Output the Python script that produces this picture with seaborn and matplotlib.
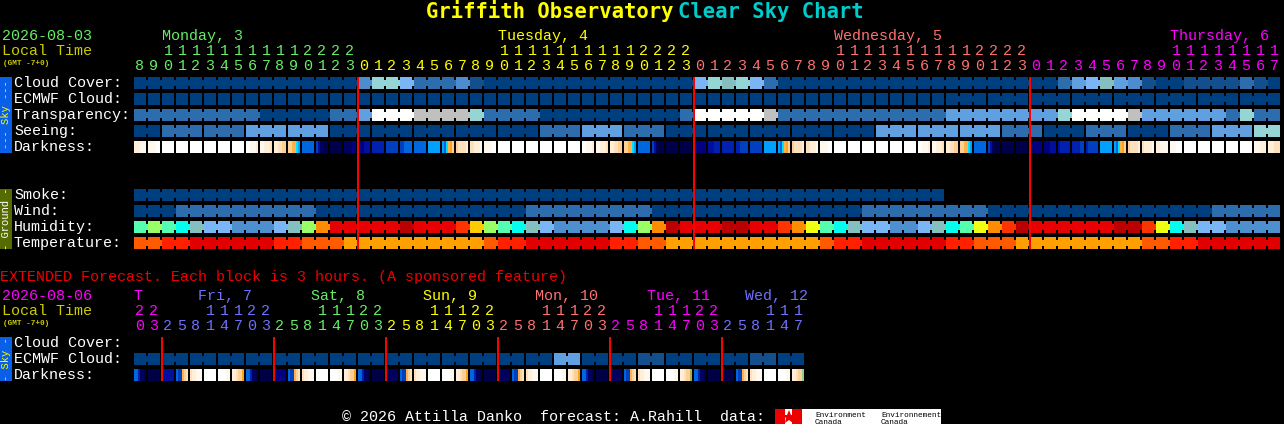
"""Griffith Observatory Clear Sky Chart, drawn as rows of seaborn heatmaps."""
import numpy as np
import matplotlib
matplotlib.use("Agg")
import matplotlib.pyplot as plt
from matplotlib.colors import ListedColormap
from matplotlib.patches import Rectangle
import seaborn as sns

# ── Block codes, one letter per block ────────────────────────────────────────
# split by day: 16 blocks on Monday, 24, 24, then 18 on Thursday
# a space marks blocks forecast together (they get joined by a small bridge)
CLOUD = ("dddddddddddddddd" "nttpmmmnsddddddddddddddd"
         "ptutpmdddddddddddddddddd" "ddmlpulnsddssssmsd")
ECMWF = "d " * 58 + "ddd " * 8
TRANSPARENCY = ("mmmmmmmmmdddddmm" "lwwwggggtmmmmddddddddddm"
                "wwwwwgmmmmmmmmmmmmllllll" "lltwwwwgllllllmtmm")
SEEING = ("dd mmm mmm lll lll ddd ddd ddd ddd ddd mmm lll mmm ddd ddd ddd ddd ddd "
          "lll lll lll mmm ddd mmm ddd mmm lll tt")
SMOKE = ("dddddddddddddddd" "dddddddddddddddddddddddd"
         "dddddddddddddddddd")
WIND = ("dddmmmmmmmmmmddd" "ddddddddddddmmmmmmmmmddd"
        "ddddddddddddmmmmmmmmmddd" "dddddddddddddmmmmm")
HUMIDITY = ("abacuppnnnpuborr" "rrrkrrrfybacupnnnnpcbokr"
            "rrkkrrfoeacuppnnpucaeofk" "rrrrrrkkfecuppnnnn")
TEMPERATURE = ("oottrrrrrrttoooy" "yyyyyyyyyottrrrrrrttooyy"
               "yyyyyyyyyottrrrrrrttoooy" "yyyyyyyyoottrrrrrr")

EXT_ECMWF = ("dd dd dd dd dd dd dd dd dd dd dd dd dd dd dd ll "
             "dd dd ss dd dd dd ss dd")

# Darkness is not flat inside a block, so each block gets six colour strips
DARKNESS = [
    "bbbaaa", "aaaaWW", "WWWWWW", "WWWWWW", "WWWWWW", "WWWWWW", "WWWWWW", "WWWWWW",
    "WWaaab", "aabbbc", "bbccdd", "ddeegh", "iiiiii", "jlnnoo", "oooooo", "nnnnmm",
    "mmmlll", "kkkkkk", "jjjjjj", "jjiiii", "iiiiii", "hhhhhh", "higefd", "dccccb",
    "ccbbba", "aaaaWW", "WWWWWW", "WWWWWW", "WWWWWW", "WWWWWW", "WWWWWW", "WWWWWW",
    "WWaaab", "aabbbc", "bbccdd", "ddeegh", "iiiiii", "jlnooo", "oooooo", "oooooo",
    "mmmmmm", "lllkkk", "kkkkkk", "kkjjjj", "jjjjjj", "hhhhhh", "higefd", "dccccb",
    "ccbbba", "aaaaWW", "WWWWWW", "WWWWWW", "WWWWWW", "WWWWWW", "WWWWWW", "WWWWWW",
    "WWaaab", "aabbbc", "bbccdd", "ddeegh", "iiiiii", "jlnooo", "oooooo", "oooooo",
    "nnmmmm", "mmmlll", "lkkkkk", "kkkkjj", "kjjjjj", "hhhhhh", "higefd", "dccccb",
    "cbbbba", "bbaaaa", "aaaWWW", "WWWWWW", "WWWWWW", "WWWWWW", "WWWWWW", "WWWWWW",
    "aaabbb", "bbbccc",
]
EXT_DARKNESS = [
    "iiknno", "oooooo", "llllll", "ijjedc", "cbbaaa", "WWWWWW", "WWWWaa", "bbcddf",
    "iiknno", "oooooo", "mmmmmm", "ijjedc", "cbbaaa", "WWWWWW", "WWWWaa", "bbcddf",
    "iiknno", "oooooo", "nnnnnn", "ijjedc", "cbbaaa", "WWWWWW", "WWWWaa", "bbcddf",
    "iiknno", "oooooo", "nnnnnn", "ijjedc", "cbbaaa", "WWWWWW", "WWWWaa", "bbcddf",
    "iiknno", "oooooo", "nnnnnn", "ijjedc", "cbbaaa", "WWWWWW", "WWWWaa", "bbcddr",
    "iiknno", "oooooo", "oooooo", "ijjedc", "cbbaaa", "WWWWWW", "WWWWaa", "bbcddq",
]

# ── Tick labels ──────────────────────────────────────────────────────────────
MAIN_ONES = "8901234567890123" "012345678901234567890123" "012345678901234567890123" "012345678901234567"
MAIN_TENS = "  11111111112222" "          11111111112222" "          11111111112222" "          11111111"
EXT_ONES = "03" "25814703" "25814703" "25814703" "25814703" "25814703" "258147"
EXT_TENS = "22" "   11122" "   11122" "   11122" "   11122" "   11122" "   111"

MAIN_MIDNIGHTS = [16, 40, 64]
EXT_MIDNIGHTS = [2, 10, 18, 26, 34, 42]

GREEN, YELLOW, SALMON, MAGENTA, BLUE = "#66ee66", "#ffff00", "#ff7070", "#ff00ff", "#7070ff"
OLIVE = "#cccc00"
MAIN_DAY_SPANS = [(16, GREEN), (24, YELLOW), (24, SALMON), (18, MAGENTA)]
EXT_DAY_SPANS = [(2, MAGENTA), (8, BLUE), (8, GREEN), (8, YELLOW), (8, SALMON), (8, MAGENTA), (6, BLUE)]

MAIN_DAYS = [("Monday, 3", 2, GREEN), ("Tuesday, 4", 26, YELLOW),
             ("Wednesday, 5", 50, SALMON), ("Thursday, 6", 74, MAGENTA)]
EXT_DAYS = [("T", 0, MAGENTA), ("Fri, 7", 4.57, BLUE), ("Sat, 8", 12.64, GREEN),
            ("Sun, 9", 20.64, YELLOW), ("Mon, 10", 28.64, SALMON),
            ("Tue, 11", 36.64, MAGENTA), ("Wed, 12", 43.64, BLUE)]

# ── Colours ──────────────────────────────────────────────────────────────────
SKY_COLOURS = {"d": "#003f7f", "s": "#134f8c", "m": "#2d6cad", "n": "#4d8dcf",
               "l": "#60a0e0", "p": "#7bb5f5", "t": "#95d5d5", "u": "#85bfbf",
               "g": "#c0c0c0", "w": "#ffffff"}
HUMIDITY_COLOURS = {"a": "#55ffb0", "b": "#99ff66", "c": "#00ffee", "u": "#85c0c0",
                    "p": "#7ab5f5", "n": "#4e8fd0", "o": "#ff8c00", "r": "#e60000",
                    "k": "#bb0000", "f": "#ff3300", "y": "#ffcc00", "e": "#eeff11"}
TEMPERATURE_COLOURS = {"o": "#ff5a00", "t": "#ff2000", "r": "#e00000", "y": "#ffa000"}
DARKNESS_COLOURS = {"W": "#ffffff", "a": "#fff8ee", "b": "#ffeed8", "c": "#fde0bc",
                    "d": "#fbcf96", "e": "#ffb347", "f": "#ffa020", "g": "#00e0ff",
                    "h": "#00a0ff", "i": "#0066e0", "j": "#0040c0", "k": "#0020b0",
                    "l": "#000fa0", "m": "#000080", "n": "#000060", "o": "#000048",
                    "q": "#8fd08f", "r": "#a8b04c"}

# ── Pixel layout ─────────────────────────────────────────────────────────────
W, H = 1284, 424
FIRST_X, PITCH, CELL = 134, 14, 12
STRIPS = 6  # a block is six 2 px strips, the seventh column stays empty
RED_LW = 2 * 72 / 100  # 2 px at dpi 100

sns.set_theme(style="dark")
plt.rcParams["font.family"] = ["Liberation Mono", "DejaVu Sans Mono"]
plt.rcParams["axes.facecolor"] = "black"

fig = plt.figure(figsize=(W / 100, H / 100), dpi=100, facecolor="black")


def draw_strips(top, blocks, palette):
    """One row as a heatmap: strips of each block, NaN column as the black gap."""
    keys = list(palette)
    values = []
    for block in blocks:
        values += [keys.index(c) for c in block] + [np.nan]
    ax = fig.add_axes([FIRST_X / W, 1 - (top + CELL) / H,
                       PITCH * len(blocks) / W, CELL / H])
    sns.heatmap(np.array([values]), cmap=ListedColormap(list(palette.values())),
                vmin=-0.5, vmax=len(keys) - 0.5, cbar=False,
                xticklabels=False, yticklabels=False, ax=ax)
    return ax


def draw_row(top, codes, palette):
    """A row of flat blocks, with bridges across the gaps inside a group."""
    groups = codes.split()
    ax = draw_strips(top, [c * STRIPS for c in "".join(groups)], palette)
    pos = 0
    for g in groups:
        for j in range(len(g) - 1):
            ax.add_patch(Rectangle(((pos + j) * (STRIPS + 1) + STRIPS, 0.25), 1, 0.5,
                                   facecolor=palette[g[j]], edgecolor="none",
                                   antialiased=False, zorder=3))
        pos += len(g)


draw_row(77, CLOUD, SKY_COLOURS)
draw_row(93, ECMWF, SKY_COLOURS)
draw_row(109, TRANSPARENCY, SKY_COLOURS)
draw_row(125, SEEING, SKY_COLOURS)
draw_strips(141, DARKNESS, DARKNESS_COLOURS)
draw_row(189, SMOKE, SKY_COLOURS)
draw_row(205, WIND, SKY_COLOURS)
draw_row(221, HUMIDITY, HUMIDITY_COLOURS)
draw_row(237, TEMPERATURE, TEMPERATURE_COLOURS)
draw_row(353, EXT_ECMWF, SKY_COLOURS)
draw_strips(369, EXT_DARKNESS, DARKNESS_COLOURS)

# ── Overlay in pixel coordinates: text, midnight lines, side bars ────────────
ov = fig.add_axes([0, 0, 1, 1], zorder=5)
ov.set_xlim(0, W)
ov.set_ylim(H, 0)
ov.axis("off")
ov.patch.set_alpha(0)

LABEL_SIZE = 10.8  # 9 px per character


def txt(x, y, s, color="white", size=LABEL_SIZE, **kw):
    # y is the text baseline in pixels
    ov.text(x, y, s, color=color, fontsize=size, ha=kw.pop("ha", "left"), va="baseline", **kw)


def block_x(i):
    return FIRST_X + PITCH * i


def hour_digits(ones, tens, spans, y_tens, y_ones):
    i = 0
    for count, color in spans:
        for _ in range(count):
            x = block_x(i) + CELL / 2
            txt(x, y_ones, ones[i], color, ha="center")
            if tens[i] != " ":
                txt(x, y_tens, tens[i], color, ha="center")
            i += 1


title_font = {"family": "DejaVu Sans Mono", "fontweight": "bold"}
txt(426, 18, "Griffith Observatory", "#ffff00", size=14.8, **title_font)
txt(678, 18, "Clear Sky Chart", "#00cccc", size=14.8, **title_font)

# main header
txt(2, 40, "2026-08-03", GREEN)
txt(2, 55, "Local Time", OLIVE)
txt(3, 65, "(GMT -7+0)", OLIVE, size=5.6, fontweight="bold")
for name, i, color in MAIN_DAYS:
    txt(block_x(i), 40, name, color)
hour_digits(MAIN_ONES, MAIN_TENS, MAIN_DAY_SPANS, 55, 70)

# extended header
txt(0, 281, "EXTENDED Forecast. Each block is 3 hours. (A sponsored feature)", "#ee0000")
txt(2, 300, "2026-08-06", MAGENTA)
txt(2, 315, "Local Time", OLIVE)
txt(3, 325, "(GMT -7+0)", OLIVE, size=5.6, fontweight="bold")
for name, i, color in EXT_DAYS:
    txt(block_x(i), 300, name, color)
hour_digits(EXT_ONES, EXT_TENS, EXT_DAY_SPANS, 315, 330)

# row labels
for y, label in [(87, "Cloud Cover:"), (103, "ECMWF Cloud:"), (119, "Transparency:"),
                 (135, "Seeing:"), (151, "Darkness:"), (199, "Smoke:"), (215, "Wind:"),
                 (231, "Humidity:"), (247, "Temperature:"), (347, "Cloud Cover:"),
                 (363, "ECMWF Cloud:"), (379, "Darkness:")]:
    txt(14, y, label)

# side bars
for top, bottom, face, color, label in [(77, 153, "#0a5fe8", "#ffff00", "--- Sky ---"),
                                        (189, 249, "#556b00", "white", "- Ground -"),
                                        (337, 381, "#0a5fe8", "#ffff00", "- Sky -")]:
    ov.add_patch(Rectangle((0, top), 12, bottom - top, facecolor=face, edgecolor="none"))
    ov.text(6, (top + bottom) / 2, label, color=color, fontsize=7.6, rotation=90,
            ha="center", va="center")

# midnight lines
ov.vlines([block_x(i) for i in MAIN_MIDNIGHTS], 77, 249, color="#ff0000", linewidth=RED_LW)
ov.vlines([block_x(i) for i in EXT_MIDNIGHTS], 337, 381, color="#ff0000", linewidth=RED_LW)

# footer with the data credit
txt(342, 421, "© 2026 Attilla Danko  forecast: A.Rahill  data:")
ov.add_patch(Rectangle((775, 409), 166, 15, facecolor="white", edgecolor="none"))
ov.add_patch(Rectangle((775, 409), 10, 15, facecolor="#ee0000", edgecolor="none"))
ov.add_patch(Rectangle((792, 409), 10, 15, facecolor="#ee0000", edgecolor="none"))
ov.plot([788.5], [416.5], marker="*", markersize=10, color="#ee0000", markeredgewidth=0)
for x, word in [(815, "Environment"), (881, "Environnement")]:
    txt(x, 417, word, "black", size=5.6)
    txt(x, 424, "Canada", "black", size=5.6)

fig.savefig("out.png", dpi=100, facecolor="black")
